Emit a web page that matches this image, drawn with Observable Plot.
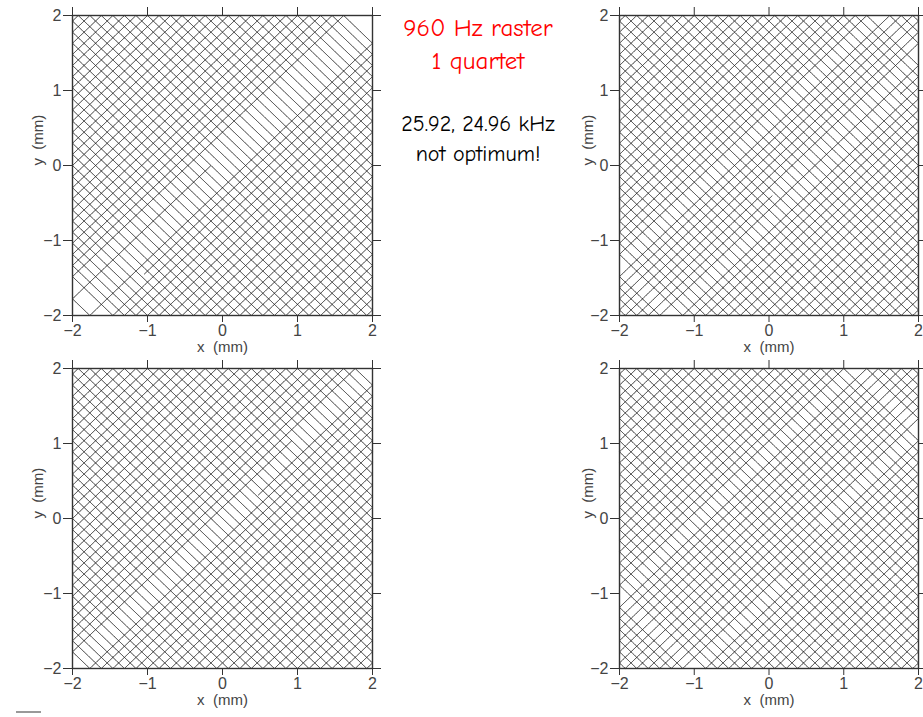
<!DOCTYPE html>
<html><head><meta charset="utf-8">
<script src="https://cdn.jsdelivr.net/npm/d3@7"></script>
<script src="https://cdn.jsdelivr.net/npm/@observablehq/plot@0.6"></script>
<style>
html,body{margin:0;padding:0;background:#fff;width:923px;height:717px;overflow:hidden;position:relative}
.panel{position:absolute}
.note{position:absolute;left:378px;width:200px;text-align:center;font-family:"Comic Sans MS","Comic Neue","Noto Sans",sans-serif;white-space:nowrap;line-height:1.2}
</style>
</head><body>
<div class="note" style="top:13px;font-size:25px;color:#f00">960 Hz raster</div>
<div class="note" style="top:46px;font-size:25px;color:#f00">1 quartet</div>
<div class="note" style="top:111px;font-size:22px;color:#000">25.92, 24.96 kHz</div>
<div class="note" style="top:141px;font-size:22px;color:#000">not optimum!</div>
<div style="position:absolute;left:16px;top:711px;width:25px;height:2px;background:#999"></div>
<div id="root"></div>
<script>
// raster parameters (from the chart text)
const rasterHz = 960;
const freqX_kHz = 25.92;
const freqY_kHz = 24.96;
const amplitude_mm = 2;
const yPhase = 1 / 108;            // relative phase of the y magnet (cycles)
// per-panel pulse: start phase in the raster period, and pulse length (fraction of raster period)
const panelStart = [0.06, 0.11, 0.03, 0.14];
const panelLength = [0.93, 0.955, 0.965, 0.965];
// panel placement
const panelLeft = [0, 560, 0, 560];
const panelTop = [0, 0, 355, 355];
const ticks = [-2, -1, 0, 1, 2];
const xLabel = "x  (mm)";
const yLabel = "y  (mm)";

const cyclesX = freqX_kHz * 1000 / rasterHz;   // 27
const cyclesY = freqY_kHz * 1000 / rasterHz;   // 26
function tri(p) { const f = p - Math.floor(p); return 4 * Math.abs(f - 0.5) - 1; }

function trace(u0, len) {
  const n = Math.round(40000 * len);
  const pts = [];
  for (let j = 0; j <= n; j++) {
    const u = u0 + len * j / n;
    pts.push({x: amplitude_mm * tri(cyclesX * u), y: amplitude_mm * tri(cyclesY * u + yPhase)});
  }
  return pts;
}
const fmt = d => (d < 0 ? "\u2212" + (-d) : String(d));

const root = document.getElementById("root");
const font = '"Liberation Sans Narrow","Liberation Sans","DejaVu Sans",sans-serif';
for (let i = 0; i < 4; i++) {
  const isLeft = panelLeft[i] === 0;
  const isTop = panelTop[i] === 0;
  const mL = isLeft ? 72 : 59;
  const mT = isTop ? 15 : 13;
  const W = isLeft ? 390 : 363;
  const H = isTop ? 355 : 362;
  const mR = isLeft ? 18 : 5;
  const mB = H - mT - 300;
  const plot = Plot.plot({
    width: W, height: H,
    marginLeft: mL, marginRight: mR, marginTop: mT, marginBottom: mB,
    style: {fontFamily: font, fontSize: "16px", color: "#444", background: "transparent", overflow: "visible"},
    x: {domain: [-2, 2], axis: null},
    y: {domain: [-2, 2], axis: null},
    marks: [
      Plot.line(trace(panelStart[i], panelLength[i]), {x: "x", y: "y", stroke: "#1e1e1e", strokeWidth: 1}),
      Plot.frame({stroke: "#333", strokeWidth: 1.4}),
      Plot.axisX({anchor: "bottom", ticks, tickSize: 7, tickPadding: 2, tickFormat: fmt, label: null, stroke: "#333"}),
      Plot.axisX({anchor: "top", ticks, tickSize: 9, tickFormat: () => "", label: null, stroke: "#333"}),
      Plot.axisY({anchor: "left", ticks, tickSize: 9, tickPadding: 2, tickFormat: fmt, label: null, stroke: "#333"}),
      Plot.axisY({anchor: "right", ticks, tickSize: 8, tickFormat: () => "", label: null, stroke: "#333"}),
      Plot.text([xLabel], {frameAnchor: "bottom", dy: 36, text: d => d, fontSize: 15, fill: "#444"}),
      Plot.text([yLabel], {frameAnchor: "left", dx: isLeft ? -34 : -31, rotate: -90, text: d => d, fontSize: 15, fill: "#444"})
    ]
  });
  const div = document.createElement("div");
  div.className = "panel";
  div.style.left = panelLeft[i] + "px";
  div.style.top = panelTop[i] + "px";
  div.appendChild(plot);
  root.appendChild(div);
}
</script>
</body></html>
